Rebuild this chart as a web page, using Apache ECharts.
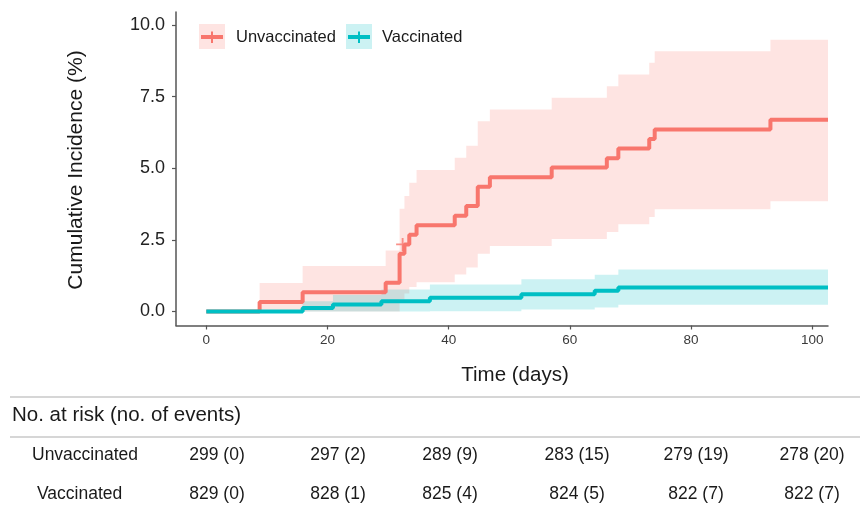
<!DOCTYPE html>
<html>
<head>
<meta charset="utf-8">
<script src="https://cdn.jsdelivr.net/npm/echarts@6/dist/echarts.min.js"></script>
<style>
html,body{margin:0;padding:0;background:#fff;}
#chart{width:860px;height:505px;}
</style>
</head>
<body>
<div id="chart"></div>
<script>
// ---- data ----
const groups = ['Unvaccinated', 'Vaccinated'];
// Unvaccinated cumulative incidence (%) step curve
const unvacTimes = [0, 8.8, 15.9, 29.6, 31.9, 32.7, 33.5, 34.7, 41, 42.9, 44.8, 46.8, 57, 66.1, 68, 73.1, 74, 93.1, 102.6];
const unvacValues = [0, 0.33, 0.67, 1.00, 2.01, 2.34, 2.68, 3.01, 3.34, 3.68, 4.35, 4.68, 5.02, 5.35, 5.69, 6.02, 6.35, 6.69, 6.69];
// Unvaccinated confidence band
const unvacBandTimes = [8.8, 15.9, 29.6, 31.9, 32.7, 33.5, 34.7, 41, 42.9, 44.8, 46.8, 57, 66.1, 68, 73.1, 74, 93.1, 102.6];
const unvacLower = [0, 0, 0, 0.42, 0.63, 0.85, 1.02, 1.29, 1.53, 2.01, 2.28, 2.53, 2.77, 3.04, 3.30, 3.57, 3.85];
const unvacUpper = [0.99, 1.59, 2.13, 3.58, 4.03, 4.49, 4.94, 5.36, 5.78, 6.64, 7.05, 7.46, 7.86, 8.27, 8.68, 9.08, 9.48];
// Vaccinated cumulative incidence (%) step curve
const vacTimes = [0, 15.9, 20.9, 28.9, 36.9, 52, 64.1, 68, 102.6];
const vacValues = [0, 0.12, 0.24, 0.36, 0.48, 0.60, 0.72, 0.84, 0.84];
// Vaccinated confidence band
const vacBandTimes = [15.9, 20.9, 28.9, 36.9, 52, 64.1, 68, 102.6];
const vacLower = [0, 0, 0, 0.01, 0.07, 0.14, 0.23];
const vacUpper = [0.36, 0.57, 0.77, 0.94, 1.12, 1.28, 1.46];
// censor marks
const censorUnvac = [[32.4, 2.34]];
// axis ticks
const xTicks = [0, 20, 40, 60, 80, 100];
const yTicks = [0, 2.5, 5, 7.5, 10];
// risk table
const riskHeader = 'No. at risk (no. of events)';
const riskUnvac = ['299 (0)', '297 (2)', '289 (9)', '283 (15)', '279 (19)', '278 (20)'];
const riskVac = ['829 (0)', '828 (1)', '825 (4)', '824 (5)', '822 (7)', '822 (7)'];

// ---- styling / layout ----
const RED = '#F8766D', TEAL = '#00BFC4';
const FONT = '"Liberation Sans", Arial, Helvetica, sans-serif';
const TXT = '#1a1a1a';

function pairs(t, v) { return t.map((x, i) => [x, v[i]]); }

function bandSeries(times, lo, hi, color) {
  return {
    type: 'custom',
    silent: true,
    clip: true,
    data: [[0]],
    renderItem: function (params, api) {
      const pts = [];
      const n = lo.length;
      for (let i = 0; i < n; i++) {
        pts.push(api.coord([times[i], hi[i]]));
        pts.push(api.coord([times[i + 1], hi[i]]));
      }
      for (let i = n - 1; i >= 0; i--) {
        pts.push(api.coord([times[i + 1], lo[i]]));
        pts.push(api.coord([times[i], lo[i]]));
      }
      return { type: 'polygon', shape: { points: pts }, style: { fill: color, opacity: 0.2 } };
    }
  };
}

const chart = echarts.init(document.getElementById('chart'), null, { renderer: 'canvas' });

const colX = [217, 338, 450, 577, 696, 812];
const graphics = [];
// legend
const legendItems = [
  { name: groups[0], color: RED, boxX: 199, textX: 236 },
  { name: groups[1], color: TEAL, boxX: 346, textX: 382 }
];
legendItems.forEach(it => {
  graphics.push({ type: 'rect', shape: { x: it.boxX, y: 24, width: 26, height: 25 }, style: { fill: it.color, opacity: 0.2 }, z: 10 });
  graphics.push({ type: 'line', shape: { x1: it.boxX + 2, y1: 37, x2: it.boxX + 24, y2: 37 }, style: { stroke: it.color, lineWidth: 4 }, z: 11 });
  graphics.push({ type: 'line', shape: { x1: it.boxX + 13, y1: 31.5, x2: it.boxX + 13, y2: 43 }, style: { stroke: it.color, lineWidth: 2 }, z: 11 });
  graphics.push({ type: 'text', x: it.textX, y: 37, style: { text: it.name, font: '16.5px ' + FONT, fill: TXT, verticalAlign: 'middle', align: 'left' }, z: 11 });
});
// axis titles
graphics.push({ type: 'text', x: 76, y: 170, rotation: Math.PI / 2, style: { text: 'Cumulative Incidence (%)', font: '21px ' + FONT, fill: TXT, align: 'center', verticalAlign: 'middle' } });
graphics.push({ type: 'text', x: 515, y: 375, style: { text: 'Time (days)', font: '20.5px ' + FONT, fill: TXT, align: 'center', verticalAlign: 'middle' } });
// risk table
graphics.push({ type: 'line', shape: { x1: 10, y1: 397, x2: 860, y2: 397 }, style: { stroke: '#c8c8c8', lineWidth: 1.5 } });
graphics.push({ type: 'line', shape: { x1: 10, y1: 437, x2: 860, y2: 437 }, style: { stroke: '#c8c8c8', lineWidth: 1.5 } });
graphics.push({ type: 'text', x: 12, y: 415, style: { text: riskHeader, font: '20.5px ' + FONT, fill: TXT, verticalAlign: 'middle', align: 'left' } });
graphics.push({ type: 'text', x: 32, y: 455, style: { text: groups[0], font: '17.5px ' + FONT, fill: TXT, verticalAlign: 'middle', align: 'left' } });
graphics.push({ type: 'text', x: 37, y: 494, style: { text: groups[1], font: '17.5px ' + FONT, fill: TXT, verticalAlign: 'middle', align: 'left' } });
riskUnvac.forEach((s, i) => graphics.push({ type: 'text', x: colX[i], y: 455, style: { text: s, font: '17.5px ' + FONT, fill: TXT, verticalAlign: 'middle', align: 'center' } }));
riskVac.forEach((s, i) => graphics.push({ type: 'text', x: colX[i], y: 494, style: { text: s, font: '17.5px ' + FONT, fill: TXT, verticalAlign: 'middle', align: 'center' } }));

const option = {
  animation: false,
  backgroundColor: '#fff',
  grid: { left: 176, right: 32, top: 12, bottom: 179.5, containLabel: false },
  xAxis: {
    type: 'value', min: -5, max: 102.6,
    axisLine: { show: true, onZero: false, lineStyle: { color: '#555', width: 1.5 } },
    axisTick: { show: true, length: 4, customValues: xTicks, lineStyle: { color: '#555', width: 1.2 } },
    axisLabel: { customValues: xTicks, color: '#3a3a3a', fontSize: 13.5, fontFamily: FONT, margin: 8 },
    splitLine: { show: false }
  },
  yAxis: {
    type: 'value', min: -0.49, max: 10.45,
    axisLine: { show: true, onZero: false, lineStyle: { color: '#555', width: 1.5 } },
    axisTick: { show: true, length: 4, customValues: yTicks, lineStyle: { color: '#555', width: 1.2 } },
    axisLabel: { customValues: yTicks, color: '#222', fontSize: 18, fontFamily: FONT, margin: 11, formatter: v => v.toFixed(1) },
    splitLine: { show: false }
  },
  series: [
    bandSeries(unvacBandTimes, unvacLower, unvacUpper, RED),
    bandSeries(vacBandTimes, vacLower, vacUpper, TEAL),
    { type: 'line', name: groups[0], step: 'end', data: pairs(unvacTimes, unvacValues), showSymbol: false, symbol: 'none', lineStyle: { color: RED, width: 4 }, itemStyle: { color: RED }, clip: true },
    { type: 'line', name: groups[1], step: 'end', data: pairs(vacTimes, vacValues), showSymbol: false, symbol: 'none', lineStyle: { color: TEAL, width: 4 }, itemStyle: { color: TEAL }, clip: true },
    { type: 'scatter', data: censorUnvac, symbol: 'path://M-1,-7H1V-1H7V1H1V7H-1V1H-7V-1H-1Z', symbolSize: 13, itemStyle: { color: RED }, silent: true }
  ],
  graphic: graphics
};
chart.setOption(option);
</script>
</body>
</html>
